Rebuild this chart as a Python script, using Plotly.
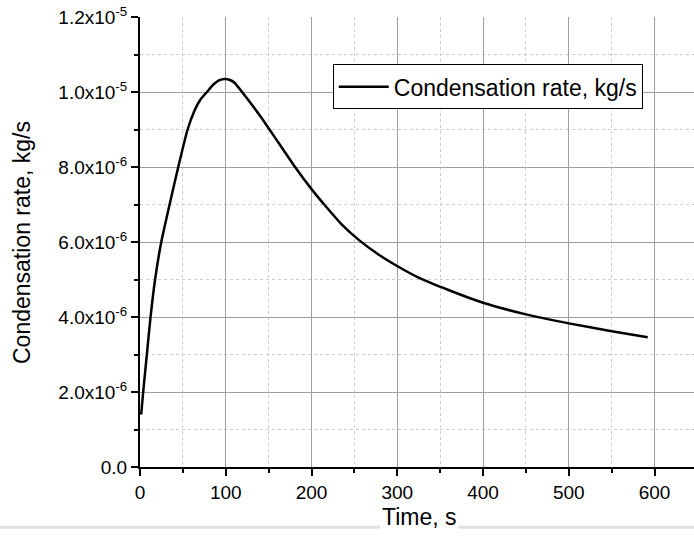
import plotly.graph_objects as go

# Data
time_s = [1.4, 3.7, 8, 12.3, 17.6, 24.8, 34.5, 44.6, 55.5, 63.5, 70.5, 78, 85.6, 92, 99, 105,
          110.5, 119, 129.8, 141.4, 151, 166.5, 180.8, 200, 214.8, 236, 255.4, 278.5,
          299.8, 324.9, 359.7, 400, 450, 500, 550, 592]
rate = [1.4e-6, 2.0e-6, 3.0e-6, 4.0e-6, 5.0e-6, 6.0e-6, 7.0e-6, 8.0e-6, 9.0e-6, 9.5e-6,
        9.8e-6, 10.0e-6, 10.2e-6, 10.31e-6, 10.35e-6, 10.32e-6, 10.24e-6, 10.0e-6, 9.68e-6,
        9.32e-6, 9.0e-6, 8.48e-6, 8.0e-6, 7.41e-6, 7.0e-6, 6.45e-6, 6.05e-6, 5.66e-6,
        5.36e-6, 5.05e-6, 4.72e-6, 4.38e-6, 4.07e-6, 3.83e-6, 3.62e-6, 3.46e-6]

y_tickvals = [0, 2e-6, 4e-6, 6e-6, 8e-6, 1.0e-5, 1.2e-5]
y_ticktext = ["0.0", "2.0x10<sup>-6</sup>", "4.0x10<sup>-6</sup>", "6.0x10<sup>-6</sup>",
              "8.0x10<sup>-6</sup>", "1.0x10<sup>-5</sup>", "1.2x10<sup>-5</sup>"]
y_minorvals = [1e-6, 3e-6, 5e-6, 7e-6, 9e-6, 1.1e-5]

FONT = "Liberation Sans, Arial, sans-serif"

fig = go.Figure()
fig.add_trace(go.Scatter(
    x=time_s, y=rate, mode="lines",
    line=dict(color="black", width=2.5, shape="spline", smoothing=0.6),
    name="Condensation rate, kg/s"))

fig.update_layout(
    width=694, height=536, autosize=False,
    margin=dict(l=140, r=0, t=17, b=69),
    plot_bgcolor="white", paper_bgcolor="white",
    font=dict(family=FONT, color="black"),
    showlegend=True,
    legend=dict(x=0.348, y=0.845, xanchor="left", yanchor="middle",
                bgcolor="white", bordercolor="black", borderwidth=1,
                font=dict(size=23, family=FONT, color="black"),
                itemwidth=50, tracegroupgap=0),
    xaxis=dict(range=[0, 646], tickmode="linear", tick0=0, dtick=100,
               automargin=False,
               showline=True, linecolor="black", linewidth=2,
               ticks="outside", ticklen=7, tickwidth=2, tickcolor="black",
               showgrid=True, gridcolor="#a0a0a0", gridwidth=1,
               zeroline=False,
               tickfont=dict(size=19, family=FONT, color="black"),
               minor=dict(tickmode="linear", tick0=0, dtick=50, ticks="outside",
                          ticklen=4, tickwidth=2, tickcolor="black",
                          showgrid=True, gridcolor="#cccccc", griddash="dot", gridwidth=1)),
    yaxis=dict(range=[0, 1.2e-5], tickmode="array", tickvals=y_tickvals, ticktext=y_ticktext,
               automargin=False,
               showline=True, linecolor="black", linewidth=2,
               ticks="outside", ticklen=7, tickwidth=2, tickcolor="black",
               showgrid=True, gridcolor="#a0a0a0", gridwidth=1,
               zeroline=False,
               tickfont=dict(size=19, family=FONT, color="black"),
               minor=dict(tickmode="array", tickvals=y_minorvals, ticks="outside",
                          ticklen=4, tickwidth=2, tickcolor="black",
                          showgrid=True, gridcolor="#cccccc", griddash="dot", gridwidth=1)),
    shapes=[dict(type="line", xref="paper", yref="paper", x0=-0.2527, x1=1.0, y0=-0.134, y1=-0.134,
                 line=dict(color="#e0e0e0", width=3), layer="below")],
    annotations=[
        dict(text="Time, s", xref="paper", yref="paper", x=0.5045, y=-0.111,
             xanchor="center", yanchor="middle", showarrow=False, bgcolor="white",
             font=dict(size=23, family=FONT, color="black")),
        dict(text="Condensation rate, kg/s", xref="paper", yref="paper", x=-0.2130, y=0.5,
             xanchor="center", yanchor="middle", showarrow=False, textangle=-90,
             font=dict(size=23, family=FONT, color="black")),
    ],
)

fig.write_html("out.html", config={"displayModeBar": False},
               post_script="document.body.style.margin='0px';document.body.style.overflow='hidden';")
